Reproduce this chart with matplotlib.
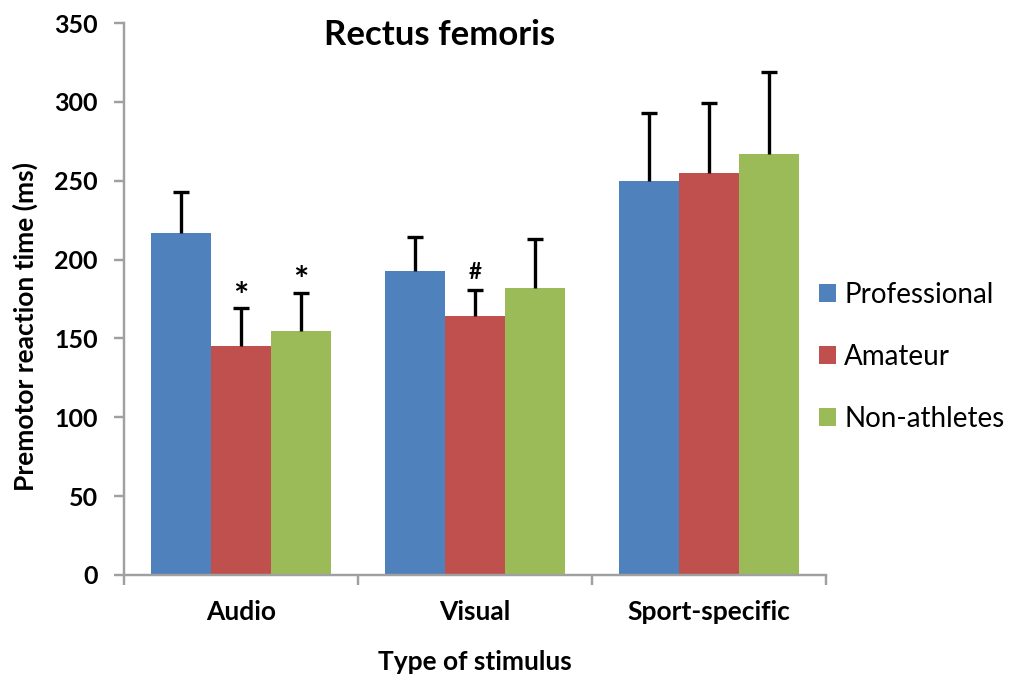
import matplotlib.pyplot as plt
import numpy as np

plt.rcParams['font.family'] = ['Lato', 'DejaVu Sans']

stimuli = ['Audio', 'Visual', 'Sport-specific']
groups = ['Professional', 'Amateur', 'Non-athletes']
colors = ['#4F81BD', '#C0504D', '#9BBB59']

# mean premotor reaction time (ms) and SD, one list per group
professional = [217, 193, 250]
professional_sd = [26, 21, 43]
amateur = [145, 164, 255]
amateur_sd = [24, 17, 44]
non_athletes = [155, 182, 267]
non_athletes_sd = [24, 31, 52]

means = [professional, amateur, non_athletes]
sds = [professional_sd, amateur_sd, non_athletes_sd]

# significance marks: (group index, stimulus index, symbol)
marks = [(1, 0, '*'), (2, 0, '*'), (1, 1, '#')]

fig = plt.figure(figsize=(10.12, 6.85), dpi=100)
ax = fig.add_axes([0.1225, 0.1606, 0.6935, 0.8058])

x = np.arange(len(stimuli))
w = 0.257
for i, g in enumerate(groups):
    bars = ax.bar(x + (i - 1) * w, means[i], w, color=colors[i], label=g,
                  yerr=[np.zeros(len(stimuli)), sds[i]],
                  error_kw=dict(ecolor='black', elinewidth=2.4, capsize=6, capthick=2.4),
                  zorder=2)
    # only the upper half of the bar gets a cap
    caps = bars.errorbar.lines[1]
    caps[0].set_visible(False)

for gi, si, sym in marks:
    top = means[gi][si] + sds[gi][si]
    if sym == '*':
        ax.annotate(sym, (x[si] + (gi - 1) * w, top), xytext=(0, -4),
                    textcoords='offset points', ha='center', va='bottom',
                    fontsize=26, fontweight='bold')
    else:
        ax.annotate(sym, (x[si] + (gi - 1) * w, top), xytext=(0, 5),
                    textcoords='offset points', ha='center', va='bottom',
                    fontsize=16, fontweight='bold')

ax.set_ylim(0, 350)
ax.set_xlim(-0.5, 2.5)
ax.set_yticks(np.arange(0, 351, 50))

# category boundaries get the tick marks, names sit between them
ax.set_xticks([-0.5, 0.5, 1.5, 2.5])
ax.set_xticklabels([])
ax.set_xticks(x, minor=True)
ax.set_xticklabels(stimuli, minor=True)
ax.tick_params(axis='x', which='minor', length=0, pad=18, labelsize=19)
ax.tick_params(axis='x', which='major', length=7, width=1.75, color='#a0a0a0')
ax.tick_params(axis='y', length=7, width=1.75, color='#a0a0a0', pad=12, labelsize=18)
for lab in ax.get_xticklabels(minor=True) + ax.get_yticklabels():
    lab.set_fontweight('bold')

for side in ['top', 'right']:
    ax.spines[side].set_visible(False)
for side in ['left', 'bottom']:
    ax.spines[side].set_color('#a0a0a0')
    ax.spines[side].set_linewidth(1.75)

ax.set_ylabel('Premotor reaction time (ms)', fontsize=19, fontweight='bold')
ax.yaxis.set_label_coords(-0.123, 0.45)
ax.set_xlabel('Type of stimulus', fontsize=19, fontweight='bold')
ax.xaxis.set_label_coords(0.5, -0.135)

ax.set_title('Rectus femoris', fontsize=25, fontweight='bold', x=0.45, y=0.945)

ax.legend(loc='center left', bbox_to_anchor=(0.955, 0.395), frameon=False,
          fontsize=20, handlelength=0.6, handleheight=0.6, handletextpad=0.3,
          labelspacing=1.3)

fig.savefig('out.png', dpi=100)
